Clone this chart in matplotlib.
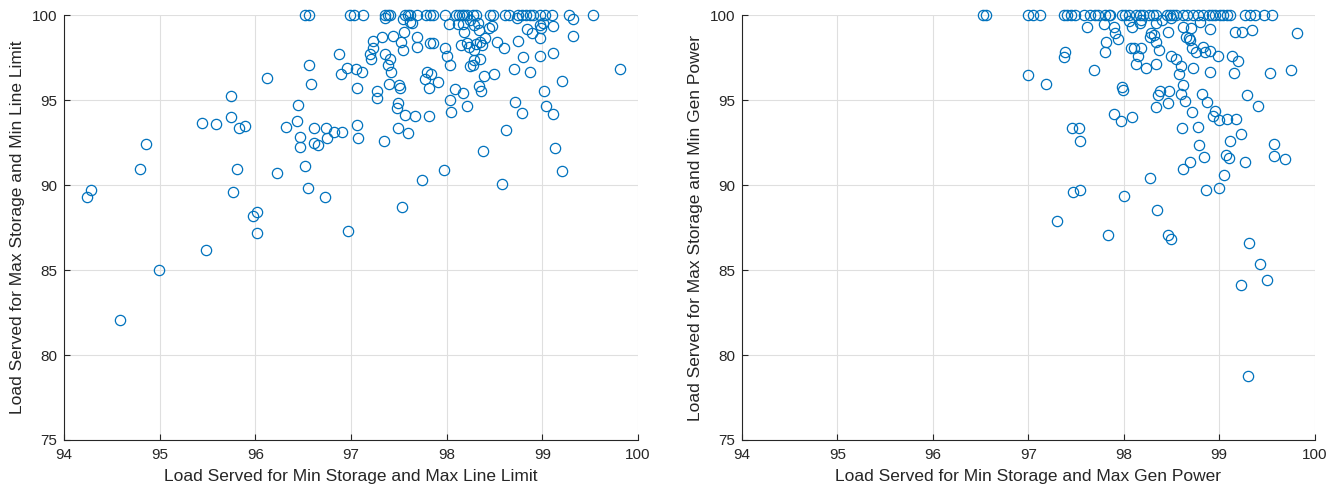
import numpy as np
import matplotlib
matplotlib.use('Agg')
import matplotlib.pyplot as plt

plt.rcParams['font.family'] = ['Liberation Sans', 'DejaVu Sans']

# ---- left panel: min storage / max line limit vs max storage / min line limit ----
line_top_x = [96.52, 96.56, 96.99, 97.03, 97.12, 97.35, 97.39, 97.41, 97.56, 97.59,
              97.62, 97.69, 97.78, 97.82, 97.86, 97.98, 98.10, 98.13, 98.16, 98.18,
              98.21, 98.27, 98.31, 98.45, 98.48, 98.61, 98.65, 98.75, 98.79, 98.83,
              98.87, 98.90, 98.97, 99.03, 99.10, 99.28, 99.53]

line_x = [96.87, 96.56, 96.96, 97.05, 96.89, 96.58, 96.12, 97.06, 95.74, 96.45,
          95.44, 95.59, 95.74, 95.83, 95.89, 96.32, 96.44, 96.61, 96.74, 96.82,
          96.91, 97.06, 97.07, 96.75, 96.47, 96.47, 96.61, 96.65, 94.86, 94.79,
          95.81, 96.23, 96.52, 95.77, 96.55, 96.73, 94.28, 94.24, 95.97, 96.02,
          96.02, 96.97, 95.48, 94.99, 94.58, 97.53,
          97.35, 97.54, 97.62, 97.64, 98.02, 98.12, 98.17, 98.24, 98.28, 98.33,
          98.34, 98.18, 98.44, 98.47, 98.73, 98.84, 98.89, 98.97, 99.01, 98.99,
          99.11, 99.32, 99.32, 97.23, 97.32, 97.44, 97.55, 97.52, 97.69, 97.69,
          97.54, 97.23, 97.20, 97.21, 97.35, 97.41, 97.39, 97.42, 97.82, 97.86,
          97.98, 98.00, 98.03, 98.15, 98.21, 98.23, 98.28, 98.31, 98.35, 98.37,
          98.40, 98.53, 98.60, 98.75, 98.28, 98.24, 98.27, 98.35, 98.80, 98.97,
          98.97, 99.11, 97.11, 97.79, 97.84, 97.77, 97.91, 97.81, 98.09, 98.17,
          98.34, 98.36, 98.39, 98.49, 98.70, 98.87, 99.21, 99.02, 99.81, 97.27,
          97.27, 97.40, 97.50, 97.51, 97.48, 97.49, 97.56, 97.67, 97.81, 98.03,
          98.04, 98.21, 98.71, 98.79, 99.04, 99.11, 97.34, 97.49, 97.59, 98.62,
          98.38, 99.13, 99.20, 97.97, 97.74, 98.58]
line_y = [97.70, 97.08, 96.92, 96.82, 96.53, 95.96, 96.29, 95.70, 95.27, 94.74,
          93.68, 93.59, 94.00, 93.39, 93.49, 93.45, 93.80, 93.39, 93.39, 93.12,
          93.14, 93.55, 92.80, 92.76, 92.82, 92.27, 92.51, 92.37, 92.41, 90.94,
          90.94, 90.69, 91.12, 89.61, 89.82, 89.29, 89.72, 89.31, 88.21, 88.41,
          87.21, 87.31, 86.17, 84.98, 82.04, 88.72,
          99.86, 99.78, 99.62, 99.53, 99.49, 99.49, 99.47, 99.72, 99.43, 99.53,
          99.13, 99.04, 99.27, 99.39, 99.86, 99.19, 98.94, 99.43, 99.53, 99.23,
          99.39, 99.78, 98.80, 98.49, 98.74, 98.78, 98.99, 98.41, 98.70, 98.16,
          97.96, 98.06, 97.70, 97.43, 97.70, 97.43, 97.08, 96.68, 98.35, 98.39,
          98.06, 97.63, 97.08, 98.25, 98.35, 98.16, 97.96, 98.29, 98.45, 98.25,
          98.65, 98.41, 98.06, 98.51, 97.37, 97.04, 97.08, 97.43, 97.57, 97.61,
          98.65, 97.76, 96.65, 96.68, 96.53, 96.25, 96.10, 95.74, 95.66, 95.41,
          95.84, 95.55, 96.45, 96.53, 96.82, 96.65, 96.14, 95.57, 96.82, 95.55,
          95.12, 95.94, 95.90, 95.74, 94.57, 94.82, 94.13, 94.08, 94.10, 95.00,
          94.33, 94.66, 94.88, 94.23, 94.66, 94.17, 92.63, 93.35, 93.10, 93.27,
          92.04, 92.21, 90.84, 90.92, 90.31, 90.04]

# ---- right panel: min storage / max gen power vs max storage / min gen power ----
gen_top_x = [96.53, 96.56, 97.00, 97.05, 97.12, 97.37, 97.40, 97.45, 97.49, 97.58,
             97.65, 97.70, 97.73, 97.80, 97.84, 97.86, 97.98, 98.01, 98.05, 98.13,
             98.17, 98.20, 98.26, 98.31, 98.34, 98.45, 98.48, 98.52, 98.55, 98.62,
             98.66, 98.73, 98.78, 98.83, 98.89, 98.92, 98.96, 99.01, 99.04, 99.08,
             99.11, 99.27, 99.32, 99.37, 99.47, 99.55]

gen_x = [97.00, 97.61, 97.79, 97.90, 97.91, 97.94, 97.81, 97.80, 98.05, 98.09,
         98.17, 98.18, 98.34, 98.40, 98.49, 98.46, 98.62, 98.70, 98.80, 98.90,
         98.27, 98.29, 98.32, 98.34, 98.37, 98.65, 98.68, 98.69, 98.71, 98.76,
         98.83, 98.85, 98.90, 98.08, 98.11, 98.18, 98.15, 98.13, 98.23, 98.34,
         98.49, 98.55, 98.60, 98.58, 98.73, 98.90, 98.99, 99.13, 99.20, 99.15,
         99.17, 99.24, 99.34, 99.82, 99.53, 99.75, 97.38, 97.37, 97.69, 97.19,
         97.98, 97.99, 98.38, 98.36, 98.47, 98.62, 98.60, 98.64, 98.46, 98.34,
         98.82, 98.87, 98.71, 98.96, 98.94, 99.00, 99.08, 99.18, 99.29, 99.41,
         97.90, 97.97, 98.09, 97.46, 97.53, 97.54, 98.61, 98.78, 98.79, 98.84,
         98.69, 98.62, 98.27, 99.07, 99.10, 99.05, 99.11, 99.23, 99.27, 99.57,
         99.57, 99.69, 97.47, 97.54, 98.00, 98.86, 99.00, 98.35, 97.30, 97.83,
         98.46, 98.50, 99.31, 99.43, 99.50, 99.23, 99.30]
gen_y = [96.49, 99.33, 99.47, 99.29, 98.94, 98.59, 98.45, 97.82, 99.67, 99.33,
         99.53, 99.72, 99.53, 99.72, 99.82, 99.04, 99.33, 99.27, 99.63, 99.19,
         98.74, 98.94, 98.84, 98.41, 97.96, 98.74, 98.65, 98.55, 98.06, 97.86,
         98.16, 97.86, 97.92, 98.06, 98.10, 98.06, 97.63, 97.12, 96.92, 97.15,
         97.63, 97.43, 97.04, 96.53, 96.88, 96.68, 97.63, 97.63, 97.33, 96.59,
         99.04, 99.00, 99.13, 98.94, 96.63, 96.78, 97.82, 97.57, 96.78, 95.97,
         95.80, 95.61, 95.55, 95.31, 95.55, 95.90, 95.39, 94.98, 94.86, 94.59,
         95.37, 94.92, 94.29, 94.37, 94.08, 93.84, 93.88, 93.90, 95.31, 94.66,
         94.17, 93.80, 94.04, 93.39, 93.35, 92.63, 93.39, 93.45, 92.37, 91.66,
         91.35, 90.94, 90.45, 91.78, 91.59, 90.59, 92.63, 93.02, 91.39, 92.41,
         91.74, 91.57, 89.59, 89.70, 89.37, 89.70, 89.82, 88.55, 87.90, 87.08,
         87.04, 86.84, 86.59, 85.37, 84.41, 84.12, 78.76]

x_ticks = [94, 95, 96, 97, 98, 99, 100]
y_ticks = [75, 80, 85, 90, 95, 100]

blue = '#0072BD'
dark = '#262626'

fig = plt.figure(figsize=(13.43, 4.92), dpi=100)
ax1 = fig.add_axes([0.0477, 0.1057, 0.4274, 0.8632])
ax2 = fig.add_axes([0.5525, 0.1057, 0.4264, 0.8632])

panels = [
    (ax1, line_top_x + line_x, [100.0] * len(line_top_x) + line_y,
     'Load Served for Min Storage and Max Line Limit',
     'Load Served for Max Storage and Min Line Limit'),
    (ax2, gen_top_x + gen_x, [100.0] * len(gen_top_x) + gen_y,
     'Load Served for Min Storage and Max Gen Power',
     'Load Served for Max Storage and Min Gen Power'),
]

for ax, xs, ys, xl, yl in panels:
    ax.plot(xs, ys, 'o', mfc='none', mec=blue, ms=7.4, mew=0.9, clip_on=False, zorder=3)
    ax.set_xlim(94, 100)
    ax.set_ylim(75, 100)
    ax.set_xticks(x_ticks)
    ax.set_yticks(y_ticks)
    ax.grid(True, color='#dfdfdf', linewidth=0.8)
    ax.set_axisbelow(True)
    for s in ['top', 'right']:
        ax.spines[s].set_visible(False)
    for s in ['left', 'bottom']:
        ax.spines[s].set_color(dark)
        ax.spines[s].set_linewidth(0.8)
    ax.tick_params(direction='in', length=4, width=0.8, colors=dark, labelsize=11)
    ax.tick_params(axis='x', pad=5.5)
    ax.tick_params(axis='y', pad=5)
    ax.set_xlabel(xl, fontsize=12.5, color=dark, labelpad=5)
    ax.set_ylabel(yl, fontsize=12.5, color=dark, labelpad=5)

plt.savefig('out.png', dpi=100)
